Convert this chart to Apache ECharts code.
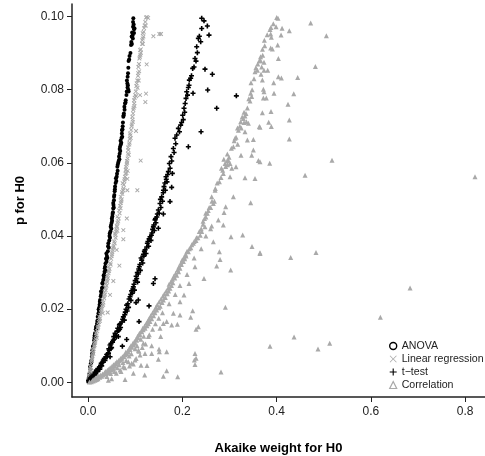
<!DOCTYPE html>
<html><head><meta charset="utf-8">
<script src="https://cdn.jsdelivr.net/npm/echarts@6/dist/echarts.min.js"></script>
<style>html,body{margin:0;padding:0;background:#fff}#c{width:485px;height:456px}</style>
</head><body><div id="c"></div>
<script>
const xTicks = [0, 0.2, 0.4, 0.6, 0.8];
const yTicks = [0, 0.02, 0.04, 0.06, 0.08, 0.10];
const seriesNames = ['ANOVA', 'Linear regression', 't\u2212test', 'Correlation'];

const anova = [[.0961,.0995],[.0955,.0985],[.0968,.0978],[.0955,.0972],[.0976,.0965],[.0985,.0968],[.0935,.0956],[.0975,.0955],[.0945,.0948],[.0925,.0945],[.0950,.0940],[.0918,.0930],[.0930,.0925],[.0912,.0922],[.0900,.0900],[.0872,.0882],[.0860,.0878],[.0880,.0892],[.0855,.0860],[.0848,.0845],[.0840,.0835],[.0834,.0817],[.0855,.0800],[.0825,.0825],[.0838,.0806],[.0860,.0795],[.0799,.0771],[.0785,.0762],[.0771,.0753],[.0760,.0735],[.0749,.0726],[.0735,.0700],[.0721,.0689],[.0718,.0680],[.0725,.0671],[.0705,.0655],[.0690,.0660],[.0679,.0644],[.0683,.0632],[.0657,.0617],[.0665,.0610],[.0640,.0600],[.0622,.0589],[.0628,.0578],[.0608,.0562],[.0600,.0550],[.0573,.0535],[.0565,.0522],[.0551,.0507],[.0535,.0490],[.0545,.0478],[.0528,.0465],[.0516,.0453],[.0510,.0442],[.0488,.0430],[.0495,.0420],[.0460,.0407],[.0465,.0395],[.0431,.0380],[.0440,.0368],[.0389,.0352],[.0410,.0340],[.0395,.0330],[.0361,.0316],[.0375,.0305],[.0345,.0295],[.0338,.0285],[.0304,.0270],[.0315,.0260],[.0290,.0250],[.0280,.0240],[.0255,.0225],[.0265,.0215],[.0240,.0205],[.0232,.0195],[.0205,.0179],[.0212,.0170],[.0190,.0160],[.0180,.0150],[.0148,.0134],[.0155,.0125],[.0130,.0115],[.0125,.0105],[.0092,.0088],[.0100,.0080],[.0080,.0070],[.0072,.0060],[.0042,.0043],[.0050,.0035],[.0034,.0025],[.0022,.0015],[.0010,.0007],[.0003,.0002]];
const anovaDense = [[.0015,.0012],[.0028,.0020],[.0060,.0052],[.0068,.0055],[.0085,.0078],[.0105,.0098],[.0115,.0100],[.0135,.0122],[.0140,.0128],[.0165,.0145],[.0170,.0152],[.0195,.0168],[.0220,.0188],[.0225,.0200],[.0245,.0212],[.0250,.0220],[.0270,.0235],[.0275,.0248],[.0295,.0258],[.0310,.0272],[.0322,.0280],[.0330,.0292],[.0350,.0302],[.0355,.0312],[.0370,.0325],[.0380,.0338],[.0400,.0345],[.0420,.0358],[.0425,.0372],[.0450,.0388],[.0455,.0400],[.0475,.0412],[.0480,.0425],[.0500,.0436],[.0505,.0448],[.0520,.0460],[.0535,.0475],[.0540,.0485],[.0550,.0498],[.0558,.0512],[.0570,.0528],[.0585,.0545],[.0592,.0558],[.0615,.0570],[.0630,.0595],[.0650,.0605],[.0670,.0625],[.0672,.0638],[.0695,.0650],[.0710,.0668],[.0730,.0692],[.0740,.0710],[.0755,.0730],[.0775,.0745],[.0795,.0765],[.0815,.0785],[.0822,.0795],[.0845,.0812]];

const linearRegression = [[.1230,.0997],[.1250,.0998],[.1275,.0996],[.1215,.0985],[.1225,.0975],[.1190,.0968],[.1160,.0954],[.1175,.0945],[.1150,.0935],[.1165,.0925],[.1103,.0908],[.1120,.0910],[.1110,.0895],[.1090,.0885],[.1068,.0862],[.1085,.0850],[.1060,.0838],[.1075,.0825],[.1032,.0817],[.1050,.0805],[.1015,.0795],[.1020,.0782],[.0990,.0778],[.0976,.0771],[.0985,.0755],[.0960,.0745],[.0940,.0726],[.0950,.0712],[.0925,.0700],[.0891,.0680],[.0905,.0668],[.0880,.0655],[.0855,.0635],[.0865,.0622],[.0840,.0612],[.0830,.0600],[.0806,.0589],[.0815,.0572],[.0785,.0562],[.0770,.0550],[.0735,.0544],[.0750,.0530],[.0720,.0520],[.0693,.0507],[.0705,.0495],[.0680,.0482],[.0660,.0470],[.0622,.0453],[.0640,.0440],[.0610,.0428],[.0600,.0418],[.0573,.0407],[.0585,.0395],[.0555,.0385],[.0545,.0372],[.0523,.0362],[.0510,.0350],[.0490,.0338],[.0470,.0326],[.0431,.0316],[.0445,.0304],[.0410,.0290],[.0400,.0280],[.0382,.0270],[.0370,.0258],[.0350,.0246],[.0335,.0235],[.0311,.0225],[.0320,.0212],[.0290,.0202],[.0275,.0192],[.0240,.0179],[.0255,.0168],[.0225,.0158],[.0205,.0148],[.0170,.0134],[.0185,.0122],[.0155,.0112],[.0140,.0102],[.0099,.0088],[.0115,.0078],[.0090,.0068],[.0075,.0058],[.0042,.0043],[.0055,.0034],[.0035,.0024],[.0022,.0014],[.0010,.0006],
[.1386,.0946],[.1513,.0952],[.1548,.0952],[.1244,.0869],[.1230,.0789],[.1103,.0785],[.1216,.0766],[.1018,.0687],[.1117,.0606],[.0806,.0582],[.0841,.0578],[.0834,.0556],[.0834,.0525],[.1046,.0525],[.0823,.0448],[.0749,.0416],[.0622,.0414],[.0749,.0391],[.0608,.0362],[.0665,.0319],[.0537,.0277],[.0467,.0239],[.0417,.0191],[.0311,.0189]];
const linearRegressionDense = [[.0015,.0010],[.0028,.0018],[.0048,.0030],[.0062,.0040],[.0068,.0052],[.0082,.0062],[.0095,.0072],[.0105,.0082],[.0122,.0092],[.0130,.0098],[.0148,.0108],[.0160,.0118],[.0178,.0128],[.0195,.0140],[.0215,.0152],[.0230,.0165],[.0248,.0174],[.0262,.0185],[.0282,.0198],[.0300,.0208],[.0325,.0218],[.0342,.0230],[.0360,.0240],[.0375,.0252],[.0392,.0264],[.0405,.0275],[.0420,.0285],[.0435,.0298],[.0455,.0310],[.0480,.0322],[.0500,.0345],[.0515,.0356],[.0535,.0368],[.0565,.0380],[.0580,.0402],[.0595,.0412],[.0615,.0425],[.0625,.0436],[.0650,.0448],[.0670,.0462],[.0690,.0476],[.0695,.0490],[.0715,.0500],[.0728,.0515],[.0742,.0525],[.0760,.0540],[.0775,.0555],[.0795,.0570],[.0800,.0580],[.0820,.0595],[.0825,.0605],[.0845,.0625],[.0850,.0642],[.0875,.0650],[.0885,.0665],[.0900,.0675],[.0915,.0690],[.0930,.0705],[.0945,.0718],[.0955,.0735],[.0968,.0750],[.0980,.0762],[.1000,.0785],[.1025,.0810],[.1045,.0825],[.1065,.0845],[.1080,.0870],[.1100,.0890],[.1120,.0900],[.1145,.0925],[.1160,.0940],[.1180,.0958],[.1200,.0975]];

const tTest = [[.2411,.0995],[.2460,.0988],[.2411,.0967],[.2531,.0974],[.2566,.0949],[.2361,.0946],[.2340,.0940],[.2390,.0931],[.2305,.0917],[.2319,.0901],[.2269,.0885],[.2290,.0878],[.2220,.0858],[.2248,.0862],[.2177,.0831],[.2195,.0838],[.2149,.0826],[.2128,.0806],[.2142,.0812],[.2093,.0794],[.2110,.0785],[.2078,.0776],[.2060,.0762],[.2036,.0749],[.2050,.0738],[.2008,.0730],[.2020,.0718],[.1965,.0703],[.1985,.0710],[.1916,.0694],[.1940,.0685],[.1881,.0676],[.1845,.0667],[.1860,.0652],[.1810,.0639],[.1825,.0628],[.1760,.0617],[.1775,.0605],[.1725,.0598],[.1740,.0585],[.1704,.0576],[.1690,.0568],[.1654,.0562],[.1675,.0548],[.1612,.0535],[.1640,.0525],[.1595,.0518],[.1562,.0507],[.1580,.0495],[.1527,.0489],[.1545,.0478],[.1492,.0471],[.1510,.0462],[.1460,.0452],[.1421,.0444],[.1440,.0436],[.1386,.0425],[.1405,.0415],[.1355,.0408],[.1315,.0398],[.1335,.0388],[.1258,.0380],[.1285,.0372],[.1209,.0362],[.1230,.0352],[.1185,.0345],[.1138,.0334],[.1160,.0326],[.1089,.0316],[.1110,.0306],[.1065,.0296],[.1032,.0284],[.1050,.0274],[.0961,.0261],[.0985,.0252],[.0940,.0244],[.0891,.0234],[.0910,.0224],[.0820,.0211],[.0860,.0205],[.0830,.0195],[.0749,.0179],[.0770,.0170],[.0665,.0157],[.0690,.0150],[.0650,.0142],[.0573,.0134],[.0600,.0125],[.0555,.0118],[.0467,.0102],[.0500,.0095],[.0450,.0088],[.0420,.0078],[.0380,.0070],[.0325,.0061],[.0300,.0054],[.0265,.0046],[.0230,.0038],[.0184,.0029],[.0160,.0024],[.0125,.0018],[.0078,.0011],[.0050,.0007],[.0025,.0003],
[.2481,.0856],[.2637,.0842],[.2538,.0799],[.2227,.0790],[.3146,.0783],[.2729,.0749],[.2397,.0685],[.2128,.0644],[.1789,.0571],[.1774,.0533],[.1739,.0494],[.1598,.0460],[.1492,.0421],[.1421,.0283],[.1386,.0270],[.1067,.0225],[.1018,.0218],[.1294,.0209],[.1082,.0166],[.0643,.0125],[.0820,.0117],[.0728,.0099],[.0467,.0070]];
const tTestDense = [[.0012,.0005],[.0035,.0006],[.0040,.0012],[.0065,.0014],[.0095,.0015],[.0105,.0020],[.0140,.0021],[.0150,.0028],[.0175,.0033],[.0200,.0030],[.0210,.0037],[.0240,.0042],[.0250,.0036],[.0280,.0052],[.0290,.0045],[.0315,.0055],[.0345,.0065],[.0360,.0060],[.0395,.0076],[.0405,.0070],[.0435,.0080],[.0440,.0092],[.0480,.0092],[.0485,.0106],[.0520,.0110],[.0535,.0115],[.0545,.0125],[.0585,.0128],[.0620,.0140],[.0630,.0148],[.0670,.0145],[.0680,.0160],[.0720,.0165],[.0735,.0172],[.0780,.0185],[.0790,.0192],[.0805,.0200],[.0845,.0215],[.0870,.0228],[.0905,.0240],[.0925,.0250],[.0950,.0255],[.0975,.0268],[.1000,.0278],[.1020,.0290],[.1045,.0300],[.1075,.0310],[.1100,.0322],[.1125,.0340],[.1175,.0350],[.1195,.0358],[.1245,.0370],[.1270,.0385],[.1295,.0392],[.1345,.0402],[.1370,.0418],[.1395,.0430],[.1430,.0448],[.1470,.0460],[.1535,.0500],[.1600,.0525],[.1630,.0545],[.1660,.0555]];

const correlation = [[.2658,.0489],[.2496,.0462],[.2411,.0412],[.2234,.0380],[.2128,.0357],[.2022,.0330],[.1881,.0293],[.1739,.0257],[.1598,.0225],[.1456,.0198],[.1315,.0166],[.1138,.0138],[.0997,.0107],[.0820,.0079],[.0679,.0061],[.0537,.0038],[.0325,.0020],[.0148,.0006],
[.2600,.0478],[.2680,.0495],[.2550,.0470],[.2470,.0448],[.2440,.0432],[.2480,.0425],[.2380,.0402],[.2330,.0395],[.2290,.0388],[.2180,.0368],[.2080,.0345],[.2050,.0338],[.1980,.0322],[.1950,.0312],[.1920,.0302],[.1840,.0285],[.1800,.0272],[.1770,.0265],[.1710,.0250],[.1680,.0242],[.1640,.0232],[.1570,.0218],[.1530,.0208],[.1500,.0204],[.1420,.0190],[.1390,.0182],[.1350,.0174],[.1280,.0160],[.1250,.0155],[.1210,.0148],[.1170,.0144],[.1100,.0130],[.1060,.0122],[.1030,.0115],[.0960,.0102],[.0930,.0096],[.0890,.0090],[.0850,.0084],[.0790,.0076],[.0760,.0071],[.0720,.0066],[.0640,.0056],[.0600,.0050],[.0570,.0044],[.0500,.0034],[.0460,.0030],[.0420,.0027],[.0380,.0024],[.0290,.0017],[.0250,.0014],[.0210,.0010],[.0180,.0008],[.0110,.0004],[.0070,.0002],[.0030,.0001],
[.1180,.0126],[.1120,.0118],[.1040,.0100],[.1000,.0092],[.0920,.0078],[.0870,.0072],[.0810,.0060],[.0740,.0054],[.0660,.0048],[.0620,.0040],[.0560,.0030],[.0480,.0024],[.0400,.0016],
[.2920,.0480],[.2885,.0464],[.3450,.0491],[.2764,.0444],[.2870,.0430],[.2623,.0427],[.2658,.0384],[.3033,.0398],[.3280,.0403],[.3478,.0371],[.3648,.0354],[.2786,.0357],[.2800,.0336],[.2729,.0318],[.3026,.0307],[.2460,.0284],[.2269,.0316],[.2142,.0270],[.2036,.0239],[.1951,.0220],[.2220,.0196],[.2178,.0178],[.2913,.0205],[.1895,.0159],[.2340,.0152],[.2291,.0145],[.1541,.0125],[.1350,.0100],[.1506,.0091],[.1669,.0084],[.1513,.0084],[.1350,.0079],[.1209,.0079],[.1103,.0075],[.1492,.0063],[.2269,.0079],[.2291,.0066],[.2255,.0061],[.2269,.0049],[.2821,.0028],[.1902,.0015],[.1669,.0032],[.1598,.0017],[.1202,.0020],[.1124,.0047],[.1251,.0046],[.0962,.0025],[.0785,.0008],[.0926,.0052],[.0855,.0056],[.0679,.0034],[.0431,.0006],[.0749,.0043],[.0997,.0061],[.1775,.0157],[.1951,.0184],[.1810,.0189],[.1669,.0166],[.1598,.0161],[.1527,.0148],[.1280,.0125],[.1174,.0107],[.1068,.0088],
[.3634,.0879],[.3592,.0853],[.3542,.0849],[.3457,.0819],[.3471,.0781],[.3436,.0769],[.3351,.0735],[.3295,.0721],[.3238,.0712],[.3189,.0689],[.3118,.0667],[.3083,.0644],[.2976,.0607],[.3012,.0598],[.2906,.0598],[.2856,.0580],[.2786,.0548],[.2694,.0525],[.2623,.0507],[.3330,.0728],[.3310,.0710],[.3360,.0712],[.3250,.0695],[.2990,.0615],[.2920,.0590],[.3050,.0585],
[.3634,.0699],[.3401,.0708],[.3330,.0685],[.3507,.0664],[.3380,.0662],[.3174,.0651],[.3507,.0635],[.3471,.0621],[.3245,.0621],[.2955,.0624],[.2870,.0571],[.3012,.0562],[.3139,.0589],[.3330,.0559],[.3542,.0557],[.3613,.0606],[.3083,.0507],
[.4002,.0997],[.4030,.0995],[.4723,.0982],[.3860,.0964],[.3988,.0972],[.4115,.0968],[.4270,.0961],[.3874,.0952],[.3888,.0943],[.4094,.0949],[.5055,.0947],[.3747,.0920],[.4023,.0922],[.3874,.0914],[.3910,.0911],[.3705,.0894],[.4037,.0885],[.3662,.0879],[.3733,.0875],[.4822,.0863],[.3684,.0862],[.3733,.0853],[.3811,.0853],[.3669,.0842],[.4037,.0835],[.4101,.0832],[.4447,.0833],[.3698,.0826],[.3938,.0819],[.3719,.0801],[.3733,.0794],[.3945,.0790],[.4363,.0789],[.3719,.0777],[.3782,.0777],[.4242,.0760],[.3698,.0737],[.3881,.0740],[.4270,.0717],[.3832,.0711],[.3888,.0699],[.3648,.0697],[.4270,.0665],[.5175,.0607],[.3853,.0599],[.3648,.0603],[.4603,.0566],[.8208,.0562],
[.3648,.0352],[.4298,.0341],[.4836,.0355],[.6830,.0258],[.6201,.0178],[.4370,.0124],[.3860,.0099],[.4878,.0091],[.5126,.0107]];
const correlationDense = [[.0100,.0006],[.0130,.0009],[.0160,.0012],[.0200,.0015],[.0230,.0018],[.0270,.0020],[.0310,.0023],[.0350,.0026],[.0370,.0030],[.0410,.0033],[.0440,.0036],[.0470,.0040],[.0510,.0044],[.0540,.0048],[.0580,.0052],[.0610,.0056],[.0650,.0060],[.0690,.0065],[.0730,.0070],[.0770,.0075],[.0800,.0082],[.0840,.0086],[.0880,.0094],[.0910,.0100],[.0950,.0106],[.0985,.0112],[.1020,.0118],[.1050,.0126],[.1090,.0134],[.1130,.0140],[.1160,.0148],[.1200,.0154],[.1240,.0162],[.1270,.0168],[.1300,.0175],[.1330,.0182],[.1370,.0190],[.1410,.0198],[.1440,.0205],[.1470,.0212],[.1510,.0220],[.1550,.0228],[.1590,.0236],[.1620,.0242],[.1660,.0250],[.1700,.0258],[.1720,.0268],[.1760,.0275],[.1790,.0282],[.1820,.0290],[.1860,.0298],[.1900,.0308],[.1930,.0316],[.1970,.0326],[.2000,.0335],[.2040,.0342],[.2070,.0350],[.2100,.0358],[.2150,.0365],[.2200,.0376],[.2250,.0385],[.2300,.0395],[.2360,.0412],[.2400,.0420],[.2440,.0440],[.2500,.0452],[.2530,.0462],[.2570,.0478],[.2630,.0495],
[.2700,.0530],[.2740,.0545],[.2820,.0560],[.2830,.0585],[.2880,.0610],[.2950,.0605],[.2960,.0595],[.3040,.0640],[.3100,.0660],[.3140,.0670],[.3170,.0695],[.3220,.0700],[.3270,.0725],[.3310,.0738],[.3380,.0750],[.3410,.0775],[.3450,.0790],[.3480,.0800],[.3520,.0830],[.3560,.0860],[.3600,.0870],[.3660,.0890],[.3700,.0910],[.3740,.0935],[.3800,.0950],[.3880,.0970],[.3930,.0980],
[.0500,.0010],[.0600,.0025],[.0700,.0030],[.0780,.0040],[.0880,.0045],[.0960,.0050],[.1020,.0065],[.1080,.0085],[.1150,.0095],[.1220,.0105],[.1300,.0130],[.1370,.0145],[.1430,.0160],[.1500,.0175],[.1580,.0190],[.1720,.0215],[.1850,.0240],[.1950,.0265],[.2100,.0295],[.2250,.0340],[.2400,.0365],[.2500,.0400],[.2600,.0420]];

const plus = 'path://M3.4 0h3.2v3.4H10v3.2H6.6V10H3.4V6.6H0V3.4h3.4z';
const cross = 'path://M1.5 0L5 3.5 8.5 0 10 1.5 6.5 5 10 8.5 8.5 10 5 6.5 1.5 10 0 8.5 3.5 5 0 1.5z';
const thinCross = 'path://M.8 0L5 4.2 9.2 0l.8.8L5.8 5l4.2 4.2-.8.8L5 5.8.8 10 0 9.2 4.2 5 0 .8z';
const thinPlus = 'path://M4.2 0h1.6v4.2H10v1.6H5.8V10H4.2V5.8H0V4.2h4.2z';
const font = 'Liberation Sans';
const grey = '#a9a9a9';
const chart = echarts.init(document.getElementById('c'), null, {renderer:'canvas'});
const axisCommon = {
  type:'value', splitLine:{show:false},
  axisLine:{show:true,onZero:false,lineStyle:{color:'#222',width:1.5}},
  axisTick:{show:true,length:5,lineStyle:{color:'#222',width:1}},
  nameLocation:'middle',
  nameTextStyle:{fontFamily:font,fontWeight:'bold',fontSize:13,color:'#000'}
};
chart.setOption({
  animation:false,
  backgroundColor:'#fff',
  grid:{left:72,top:4,right:0,bottom:59,outerBoundsMode:'none'},
  xAxis:Object.assign({},axisCommon,{
    min:-0.034,max:0.842,name:'Akaike weight for H0',nameGap:45,
    axisTick:Object.assign({},axisCommon.axisTick,{customValues:xTicks}),
    axisLabel:{customValues:xTicks,margin:9,fontFamily:font,fontSize:12,color:'#222',formatter:v=>v.toFixed(1)}
  }),
  yAxis:Object.assign({},axisCommon,{
    min:-0.004,max:0.1034,name:'p for H0',nameGap:45,
    axisTick:Object.assign({},axisCommon.axisTick,{customValues:yTicks}),
    axisLabel:{customValues:yTicks,margin:8,fontFamily:font,fontSize:12,color:'#222',formatter:v=>v.toFixed(2)}
  }),
  legend:{
    orient:'vertical',left:389,top:340.5,itemGap:2,itemWidth:7,itemHeight:7,padding:0,
    textStyle:{fontFamily:font,fontSize:10.6,color:'#222',padding:[0,0,0,0]},
    data:[
      {name:seriesNames[0],icon:'circle',itemStyle:{color:'#fff',borderColor:'#000',borderWidth:1.4}},
      {name:seriesNames[1],icon:thinCross,itemStyle:{color:grey,borderWidth:0}},
      {name:seriesNames[2],icon:thinPlus,itemStyle:{color:'#000',borderWidth:0}},
      {name:seriesNames[3],icon:'triangle',itemStyle:{color:'#fff',borderColor:grey,borderWidth:1.2}}
    ]
  },
  series:[
    {name:seriesNames[0],type:'scatter',data:anova.concat(anovaDense),symbol:'circle',symbolSize:4,itemStyle:{color:'#000',opacity:1}},
    {name:seriesNames[1],type:'scatter',data:linearRegression.concat(linearRegressionDense),symbol:cross,symbolSize:4.4,itemStyle:{color:grey,opacity:1}},
    {name:seriesNames[2],type:'scatter',data:tTest.concat(tTestDense),symbol:plus,symbolSize:5,itemStyle:{color:'#000',opacity:1}},
    {name:seriesNames[3],type:'scatter',data:correlation.concat(correlationDense),symbol:'triangle',symbolSize:5,itemStyle:{color:grey,opacity:1}}
  ]
});
</script></body></html>
